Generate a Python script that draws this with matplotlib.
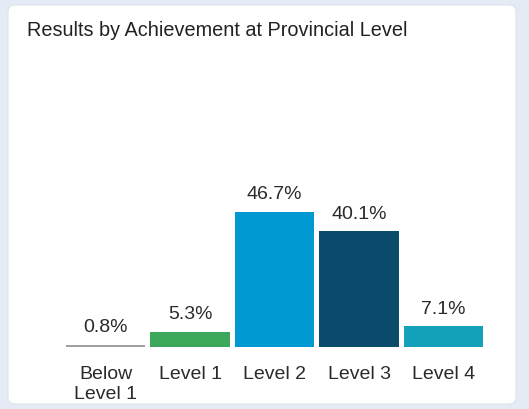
import matplotlib
matplotlib.use('Agg')
import matplotlib.pyplot as plt
from matplotlib.patches import FancyBboxPatch

plt.rcParams['font.family'] = ['Liberation Sans', 'DejaVu Sans']

categories = ['Below\nLevel 1', 'Level 1', 'Level 2', 'Level 3', 'Level 4']
values = [0.8, 5.3, 46.7, 40.1, 7.1]
colors = ['#a0a0a0', '#3ba85c', '#0099d2', '#0a4a6b', '#13a0b9']

W, H = 529, 410
fig = plt.figure(figsize=(W / 100, H / 100), dpi=100)
fig.patch.set_facecolor('#e4ebf4')

# white card
card = FancyBboxPatch((8 / W, 5 / H), (516 - 8) / W, (404 - 5) / H,
                      boxstyle='round,pad=0,rounding_size=0.015',
                      transform=fig.transFigure, facecolor='white',
                      edgecolor='#dde3ea', linewidth=0.8, zorder=-5)
fig.patches.append(card)

fig.text(27 / W, 1 - 30 / H, 'Results by Achievement at Provincial Level',
         fontsize=14.3, color='#222222', va='center', ha='left')

# axes: baseline at y=348, x from 63 to 486
left, right = 63.3, 485.8
top, bottom = 59, 348
ax = fig.add_axes([left / W, 1 - bottom / H, (right - left) / W, (bottom - top) / H])
ax.set_facecolor('none')
ax.set_zorder(2)

x = range(len(categories))
bars = ax.bar(x, values, width=0.94, color=colors)
ax.set_xlim(-0.5, len(categories) - 0.5)
ax.set_ylim(0, 100)

for xi, v in zip(x, values):
    ax.text(xi, v + 3.3, f'{v}%', ha='center', va='bottom', fontsize=14, color='#2a2a2a')

ax.set_xticks(list(x))
ax.set_xticklabels(categories, fontsize=14, color='#2a2a2a', linespacing=1.22)
ax.tick_params(axis='x', length=0, pad=13)
ax.set_yticks([])
for s in ax.spines.values():
    s.set_visible(False)

fig.savefig('out.png', dpi=100, facecolor=fig.get_facecolor())
